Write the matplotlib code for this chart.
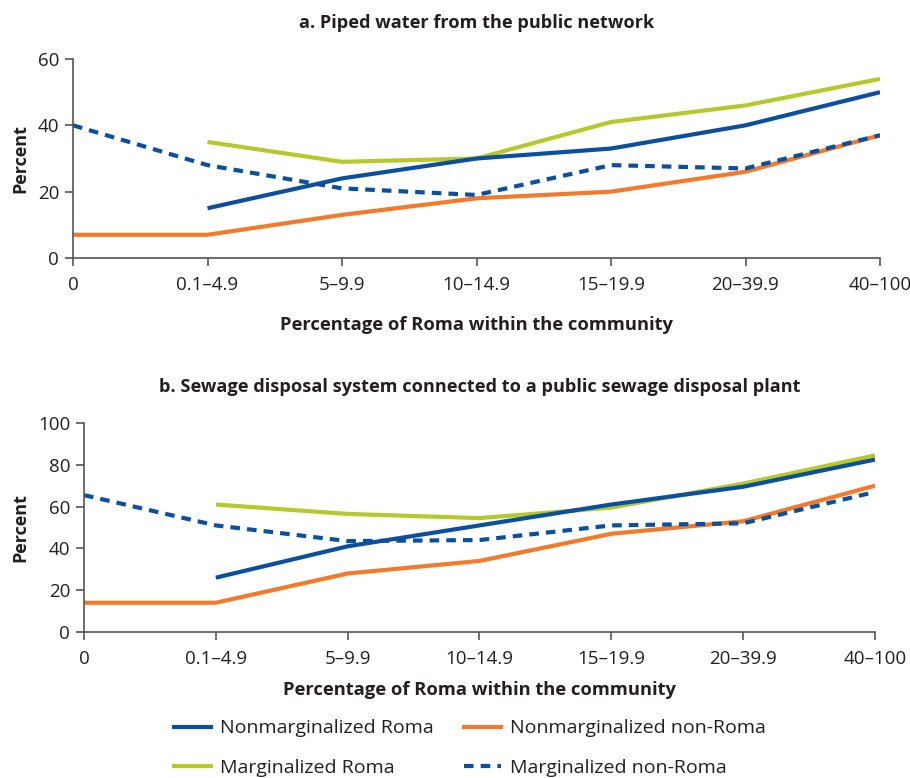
import matplotlib
matplotlib.use("Agg")
import matplotlib.pyplot as plt
from matplotlib.lines import Line2D

plt.rcParams['font.family'] = ['Open Sans', 'DejaVu Sans']

categories = ['0', '0.1–4.9', '5–9.9', '10–14.9', '15–19.9', '20–39.9', '40–100']

# panel a: piped water
a_nonmarg_roma = [None, 15, 24, 30, 33, 40, 50]
a_nonmarg_nonroma = [7, 7, 13, 18, 20, 26, 37]
a_marg_roma = [None, 35, 29, 30, 41, 46, 54]
a_marg_nonroma = [40, 28, 21, 19, 28, 27, 37]

# panel b: sewage
b_nonmarg_roma = [None, 26, 41, 51, 61, 69.5, 82.5]
b_nonmarg_nonroma = [14, 14, 28, 34, 47, 53, 70]
b_marg_roma = [None, 61, 56.5, 54.5, 59.5, 71, 84.5]
b_marg_nonroma = [65.5, 51, 43.5, 44, 51, 52, 67]

blue = '#0a4fa0'
orange = '#f47a2a'
green = '#b5c92a'
axis_col = '#555555'
text_col = '#231f20'
dash = (0, (2.3, 1.7))


def draw_panel(ax, series, ymax, ystep, title):
    x = range(len(categories))
    nr, nnr, mr, mnr = series
    def pts(vals):
        xs = [i for i, v in zip(x, vals) if v is not None]
        ys = [v for v in vals if v is not None]
        return xs, ys
    ax.plot(*pts(nnr), color=orange, lw=3, solid_capstyle='butt')
    ax.plot(*pts(mr), color=green, lw=3, solid_capstyle='butt')
    ax.plot(*pts(nr), color=blue, lw=3, solid_capstyle='butt')
    ax.plot(*pts(mnr), color=blue, lw=3, ls=dash, dash_capstyle='butt')
    ax.set_xlim(0, len(categories) - 1)
    ax.set_ylim(0, ymax)
    ax.set_yticks(range(0, ymax + 1, ystep))
    ax.set_xticks(list(x))
    ax.set_xticklabels(categories)
    for s in ['top', 'right']:
        ax.spines[s].set_visible(False)
    for s in ['left', 'bottom']:
        ax.spines[s].set_color(axis_col)
        ax.spines[s].set_linewidth(1.2)
    ax.tick_params(colors=axis_col, labelcolor=text_col, labelsize=13.5, length=6, width=1.2)
    ax.tick_params(axis='x', pad=7)
    ax.tick_params(axis='y', pad=4)
    ax.set_ylabel('Percent', fontsize=13, fontweight='bold', color=text_col, labelpad=6)
    ax.set_xlabel('Percentage of Roma within the community', fontsize=13.2,
                  fontweight='bold', color=text_col)
    ax.set_title(title, fontsize=13.1, fontweight='bold', color=text_col, pad=22)


fig = plt.figure(figsize=(9.1, 7.78), dpi=100)
ax1 = fig.add_axes([73 / 910, 1 - 258 / 778, (880 - 73) / 910, (258 - 59) / 778])
ax2 = fig.add_axes([84 / 910, 1 - 632 / 778, (875 - 84) / 910, (632 - 423) / 778])

draw_panel(ax1, [a_nonmarg_roma, a_nonmarg_nonroma, a_marg_roma, a_marg_nonroma],
           60, 20, 'a. Piped water from the public network')
ax1.xaxis.labelpad = 16
draw_panel(ax2, [b_nonmarg_roma, b_nonmarg_nonroma, b_marg_roma, b_marg_nonroma],
           100, 20, 'b. Sewage disposal system connected to a public sewage disposal plant')
ax2.xaxis.labelpad = 9

handles = [
    Line2D([], [], color=blue, lw=3),
    Line2D([], [], color=green, lw=3),
    Line2D([], [], color=orange, lw=3),
    Line2D([], [], color=blue, lw=3, ls=dash),
]
labels = ['Nonmarginalized Roma', 'Marginalized Roma',
          'Nonmarginalized non-Roma', 'Marginalized non-Roma']
fig.legend(handles, labels, ncol=2, loc='center', bbox_to_anchor=(470 / 910, 1 - 748 / 778),
           frameon=False, fontsize=14, handlelength=1.9, handletextpad=0.45,
           columnspacing=1.6, labelspacing=1.1, labelcolor=text_col)

fig.savefig('out.png', dpi=100)
